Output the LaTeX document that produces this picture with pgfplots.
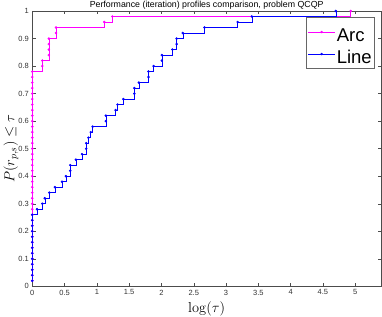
\documentclass[border=0pt]{standalone}
\usepackage[no-math]{fontspec}
\setmainfont{Liberation Sans}
\usepackage{pgfplots}
\pgfplotsset{compat=1.18}
\definecolor{arcc}{rgb}{1,0,1}
\definecolor{linec}{rgb}{0,0,1}
\definecolor{axc}{rgb}{0.3,0.3,0.3}
\begin{document}
\begin{tikzpicture}
\begin{axis}[
  scale only axis, width=348.7pt, height=275.3pt,
  xmin=0, xmax=5.4, ymin=0, ymax=1,
  xtick={0,0.5,1,1.5,2,2.5,3,3.5,4,4.5,5},
  ytick={0,0.1,0.2,0.3,0.4,0.5,0.6,0.7,0.8,0.9,1},
  axis line style={axc, line width=0.5pt},
  major tick style={axc, line width=0.4pt},
  major tick length=3.5pt,
  tick align=inside,
  tick label style={font=\fontsize{7.5}{9}\selectfont, color=black!80},
  /pgf/number format/assume math mode=true,
  clip=false,
  every axis title shift=0pt,
  title={Performance (iteration) profiles comparison, problem QCQP},
  title style={font=\fontsize{8.8}{10}\selectfont, at={(axis description cs:0.5,1)}, anchor=base, yshift=3.8pt, inner sep=0pt},
  xlabel={$\log(\tau)$},
  xlabel style={font=\fontsize{14}{16}\selectfont, at={(axis description cs:0.5,0)}, anchor=base, yshift=-26pt, inner sep=0pt},
  ylabel={$P(r_{p,s})\leq\tau$},
  ylabel style={font=\fontsize{14}{16}\selectfont, at={(axis description cs:0,0.5)}, anchor=base, yshift=18pt, inner sep=0pt},
  legend style={at={(1,1)}, anchor=north east, xshift=-7pt, yshift=-6.3pt,
    draw=black!60, fill=white, line width=0.5pt,
    font=\fontsize{18.5}{22}\selectfont,
    inner xsep=1.5pt, inner ysep=3.5pt,
    nodes={inner sep=0.5pt}, row sep=0pt, column sep=1pt, cells={anchor=west}},
  legend image code/.code={\draw[mark repeat=2,mark phase=2,#1] plot coordinates {(0cm,0cm)(0.47cm,0cm)(0.94cm,0cm)};},
]
\addplot[const plot, arcc, line width=0.5pt, mark=*, mark size=1pt] coordinates {
(0,0.02)(0,0.04)(0,0.06)(0,0.08)(0,0.10)(0,0.12)(0,0.14)(0,0.16)(0,0.18)(0,0.20)
(0,0.22)(0,0.24)(0,0.26)(0,0.28)(0,0.30)(0,0.32)(0,0.34)(0,0.36)(0,0.38)(0,0.40)
(0,0.42)(0,0.44)(0,0.46)(0,0.48)(0,0.50)(0,0.52)(0,0.54)(0,0.56)(0,0.58)(0,0.60)
(0,0.62)(0,0.64)(0,0.66)(0,0.68)(0,0.70)(0,0.72)(0,0.74)(0,0.76)(0,0.78)
(0.155,0.80)(0.155,0.82)
(0.256,0.84)(0.256,0.86)(0.256,0.88)(0.256,0.90)
(0.368,0.92)(0.368,0.94)
(1.115,0.96)(1.240,0.98)(4.930,1.00)
};
\addlegendentry{\rule[-2.8pt]{0pt}{22.3pt}Arc}
\addplot[const plot, linec, line width=0.5pt, mark=*, mark size=1pt] coordinates {
(0,0.02)(0,0.04)(0,0.06)(0,0.08)(0,0.10)(0,0.12)(0,0.14)(0,0.16)(0,0.18)(0,0.20)
(0,0.22)(0,0.24)(0,0.26)
(0.073,0.28)(0.155,0.30)(0.193,0.32)(0.264,0.34)(0.350,0.36)(0.460,0.38)(0.520,0.40)
(0.588,0.42)(0.588,0.44)(0.675,0.46)(0.770,0.48)(0.835,0.50)(0.835,0.52)(0.870,0.54)
(0.905,0.56)(0.935,0.58)(1.138,0.60)(1.138,0.62)(1.290,0.64)(1.320,0.66)(1.410,0.68)
(1.580,0.70)(1.580,0.72)(1.650,0.74)(1.800,0.76)(1.800,0.78)(1.878,0.80)(2.006,0.82)
(2.006,0.84)(2.170,0.86)(2.235,0.88)(2.235,0.90)(2.330,0.92)(2.667,0.94)(3.180,0.96)
(3.400,0.98)(4.700,1.00)
};
\addlegendentry{\rule[-2.8pt]{0pt}{22.3pt}Line}
\end{axis}
\pgfresetboundingbox
\path[use as bounding box] ([xshift=-32.3pt,yshift=-30.7pt]current axis.south west) rectangle ([xshift=1pt,yshift=11pt]current axis.north east);
\end{tikzpicture}
\end{document}
